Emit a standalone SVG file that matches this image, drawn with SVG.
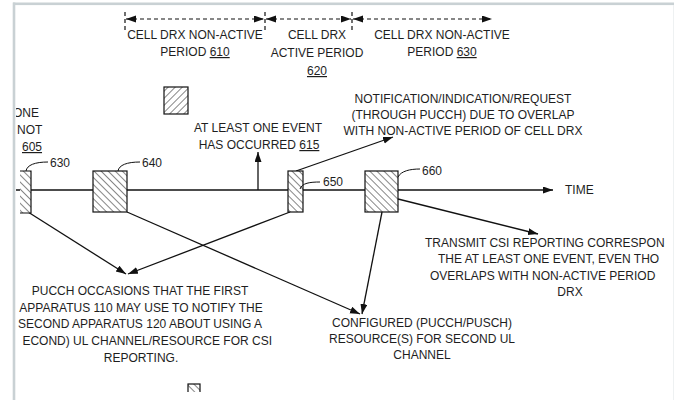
<svg xmlns="http://www.w3.org/2000/svg" width="676" height="400" viewBox="0 0 676 400">
<defs>
<style>
text{font-family:"Liberation Sans",Arial,sans-serif;font-size:12px;fill:#1e1e1e}
.m{text-anchor:middle}
.e{text-anchor:end}
.u{text-decoration:underline}
.ln{stroke:#111;stroke-width:1.3;fill:none}
.ld{stroke:#111;stroke-width:1;fill:none}
.ds{stroke:#111;stroke-width:1.2;stroke-dasharray:4 3;fill:none}
.blk{fill:url(#hb);stroke:#111;stroke-width:1.2}
</style>
<pattern id="hb" width="5" height="5" patternUnits="userSpaceOnUse" patternTransform="rotate(-45)">
<rect width="5" height="5" fill="#fff"/><line x1="0" y1="0" x2="0" y2="5" stroke="#222" stroke-width="1.1"/>
</pattern>
<pattern id="hf" width="5" height="5" patternUnits="userSpaceOnUse" patternTransform="rotate(45)">
<rect width="5" height="5" fill="#fff"/><line x1="0" y1="0" x2="0" y2="5" stroke="#222" stroke-width="1.1"/>
</pattern>
<marker id="ah" markerUnits="userSpaceOnUse" markerWidth="11" markerHeight="8" refX="10" refY="3.5" orient="auto">
<path d="M0,0 L10,3.5 L0,7 z" fill="#111"/>
</marker>
<marker id="ahs" markerUnits="userSpaceOnUse" markerWidth="11" markerHeight="8" refX="10" refY="3.5" orient="auto-start-reverse">
<path d="M0,0 L10,3.5 L0,7 z" fill="#111"/>
</marker>
<clipPath id="cl"><rect x="16" y="5" width="657" height="387"/></clipPath>
</defs>
<rect width="676" height="400" fill="#fff"/>
<rect x="13" y="2.5" width="661" height="2.6" fill="#c9d1d4"/>
<rect x="12.7" y="2.5" width="2.6" height="398" fill="#c9d1d4"/>
<rect x="673" y="5" width="1" height="395" fill="#eef1f2"/>
<g clip-path="url(#cl)">
<g id="periods">
<line class="ds" x1="125" y1="12" x2="125" y2="31"/>
<line class="ds" x1="265" y1="12" x2="265" y2="31"/>
<line class="ds" x1="352" y1="12" x2="352" y2="31"/>
<line class="ds" x1="126" y1="19" x2="264" y2="19" marker-start="url(#ahs)" marker-end="url(#ahs)"/>
<line class="ds" x1="266" y1="19" x2="351" y2="19" marker-start="url(#ahs)" marker-end="url(#ahs)"/>
<line class="ds" x1="353" y1="19" x2="492" y2="19" marker-start="url(#ahs)" marker-end="url(#ahs)"/>
<text class="m" x="195" y="39">CELL DRX NON-ACTIVE</text>
<text class="m" x="195" y="56">PERIOD <tspan class="u">610</tspan></text>
<text class="m" x="317" y="39">CELL DRX</text>
<text class="m" x="317" y="57">ACTIVE PERIOD</text>
<text class="m" x="317" y="75"><tspan class="u">620</tspan></text>
<text class="m" x="442" y="39">CELL DRX NON-ACTIVE</text>
<text class="m" x="442" y="56">PERIOD <tspan class="u">630</tspan></text>
</g>
<g id="legend">
<rect x="164" y="87" width="24" height="27" fill="url(#hf)" stroke="#111" stroke-width="1.2"/>
</g>
<g id="event605">
<text x="13" y="117">ONE</text>
<text x="17" y="134">NOT</text>
<text x="22" y="151" class="u">605</text>
</g>
<g id="connectors">
<line class="ln" x1="15" y1="190" x2="553" y2="190" marker-end="url(#ah)"/>
<line class="ln" x1="258" y1="190" x2="258" y2="152" marker-end="url(#ah)"/>
<line class="ln" x1="296" y1="171" x2="393" y2="137" marker-end="url(#ah)"/>
<line class="ln" x1="28" y1="212" x2="126" y2="274" marker-end="url(#ah)"/>
<line class="ln" x1="290" y1="212" x2="128" y2="274" marker-end="url(#ah)"/>
<line class="ln" x1="127" y1="212" x2="360" y2="314" marker-end="url(#ah)"/>
<line class="ln" x1="382" y1="212" x2="362" y2="314" marker-end="url(#ah)"/>
<line class="ln" x1="398" y1="199" x2="538" y2="234" marker-end="url(#ah)"/>
</g>
<g id="occ630">
<rect x="20" y="171" width="11" height="42" fill="url(#hb)"/>
<path d="M20,171 H31 V213 H20" fill="none" stroke="#111" stroke-width="1.2"/>
<path class="ld" d="M26,171 C27,165 35,162 48,162"/>
<text x="50" y="167">630</text>
</g>
<g id="occ640">
<rect class="blk" x="93" y="171" width="34" height="41"/>
<path class="ld" d="M118,171 C119,165 127,162 140,162"/>
<text x="142" y="167">640</text>
</g>
<g id="occ650">
<rect class="blk" x="288" y="171" width="15" height="41"/>
<path class="ld" d="M300,189 C302,183 310,182 320,182"/>
<text x="323" y="186">650</text>
</g>
<g id="occ660">
<rect class="blk" x="365" y="171" width="33" height="41"/>
<path class="ld" d="M398,177 C401,171 410,169 420,169"/>
<text x="422" y="175">660</text>
</g>
<g id="event615">
<text class="m" x="258" y="132">AT LEAST ONE EVENT</text>
<text class="m" x="259" y="149">HAS OCCURRED <tspan class="u">615</tspan></text>
</g>
<g id="notify">
<text class="m" x="463" y="103">NOTIFICATION/INDICATION/REQUEST</text>
<text class="m" x="463" y="119">(THROUGH PUCCH) DUE TO OVERLAP</text>
<text class="m" x="463" y="135">WITH NON-ACTIVE PERIOD OF CELL DRX</text>
</g>
<g id="time"><text x="565" y="194">TIME</text></g>
<g id="transmit">
<text x="425" y="247">TRANSMIT CSI REPORTING CORRESPON</text>
<text x="438" y="263">THE AT LEAST ONE EVENT, EVEN THO</text>
<text x="430" y="280">OVERLAPS WITH NON-ACTIVE PERIOD</text>
<text class="m" x="570" y="296">DRX</text>
</g>
<g id="pucch">
<text class="m" x="140" y="295">PUCCH OCCASIONS THAT THE FIRST</text>
<text class="m" x="141" y="312">APPARATUS 110 MAY USE TO NOTIFY THE</text>
<text class="m" x="140" y="328">SECOND APPARATUS 120 ABOUT USING A</text>
<text class="e" x="272" y="345">ECOND) UL CHANNEL/RESOURCE FOR CSI</text>
<text class="m" x="141" y="362">REPORTING.</text>
</g>
<g id="configured">
<text class="m" x="422" y="327">CONFIGURED (PUCCH/PUSCH)</text>
<text class="m" x="422" y="343">RESOURCE(S) FOR SECOND UL</text>
<text class="m" x="422" y="359">CHANNEL</text>
</g>
<g id="legend2">
<rect x="188" y="384" width="12" height="14" fill="url(#hb)" stroke="#111" stroke-width="1.2"/>
</g>
</g>
</svg>
